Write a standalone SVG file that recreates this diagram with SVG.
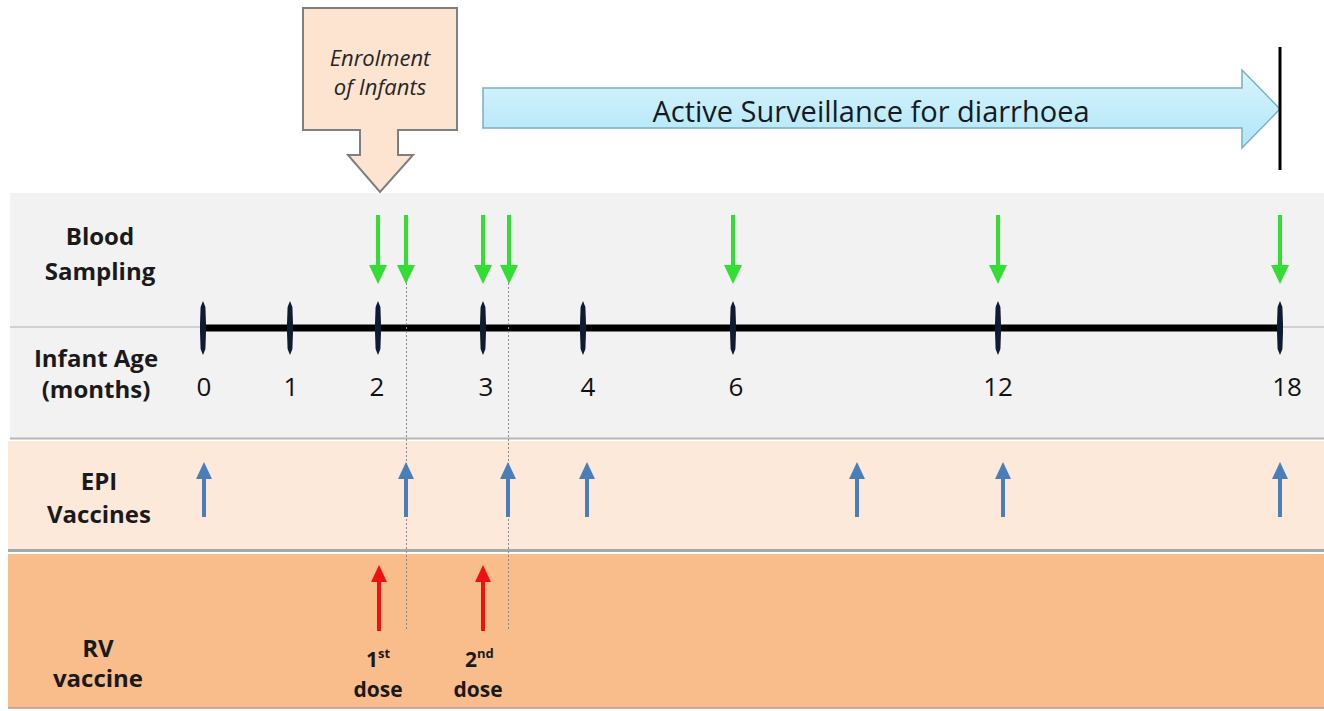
<svg xmlns="http://www.w3.org/2000/svg" width="1324" height="711" viewBox="0 0 1324 711">
<style>
.lbl{font-family:"Open Sans","Liberation Sans",sans-serif;font-weight:bold;font-size:24px;fill:#1a1a1a;text-anchor:middle}
.num{font-family:"Open Sans","Liberation Sans",sans-serif;font-size:26px;fill:#111;text-anchor:middle}
.dose{font-family:"Open Sans","Liberation Sans",sans-serif;font-weight:bold;font-size:21px;fill:#1a1a1a}
.tick{fill:#0f1a33}
.green{stroke:#33dd33;stroke-width:4;fill:none}
.greenh{fill:#33dd33}
.blue{stroke:#4a7ebb;stroke-width:4;fill:none}
.blueh{fill:#4a7ebb}
.red{stroke:#ee1111;stroke-width:4;fill:none}
.redh{fill:#ee1111}
.dash{stroke:#8a8a8a;stroke-width:1;stroke-dasharray:2,2;fill:none}
.enr{font-family:"Open Sans","Liberation Sans",sans-serif;font-style:italic;font-size:22px;fill:#262626;text-anchor:middle}
</style>
<defs>
<linearGradient id="sky" x1="0" y1="0" x2="0" y2="1">
<stop offset="0" stop-color="#d8f4fd"/>
<stop offset="1" stop-color="#b0e6f8"/>
</linearGradient>
<path id="tk" d="M0,-27 L2.4,-21 L3,-4 L3,4 L2.4,21 L0,27 L-2.4,21 L-3,4 L-3,-4 L-2.4,-21 Z"/>
</defs>
<rect x="0" y="0" width="1324" height="711" fill="#ffffff"/>

<g id="band-blood-age">
<rect x="10" y="193" width="1314" height="245" fill="#f2f2f2"/>
<line x1="10" y1="327" x2="1324" y2="327" stroke="#c4c4c4" stroke-width="1.5"/>
<line x1="10" y1="438.5" x2="1324" y2="438.5" stroke="#b5b5b5" stroke-width="2"/>
</g>
<g id="band-epi">
<rect x="8" y="441" width="1316" height="109" fill="#fde9da"/>
<line x1="8" y1="550.5" x2="1324" y2="550.5" stroke="#a8a8a8" stroke-width="3"/>
</g>
<g id="band-rv">
<rect x="8" y="554" width="1316" height="154" fill="#f9bd8c"/>
<line x1="8" y1="708" x2="1324" y2="708" stroke="#b0a090" stroke-width="1.5"/>
</g>

<g id="enrolment">
<polygon points="303,8 457,8 457,130 398,130 398,155 413,155 380,192 348,155 360,155 360,130 303,130" fill="#fde4d0" stroke="#7f7f7f" stroke-width="2"/>
<text class="enr" x="380" y="66">Enrolment</text>
<text class="enr" x="380" y="95">of Infants</text>
</g>

<g id="surveillance">
<polygon points="483,88 1242,88 1242,70 1280,109 1242,148 1242,128 483,128" fill="url(#sky)" stroke="#7aaec6" stroke-width="1.5"/>
<text x="871" y="122" font-family="Open Sans, Liberation Sans, sans-serif" font-size="29" fill="#141a24" text-anchor="middle">Active Surveillance for diarrhoea</text>
<line x1="1280" y1="47" x2="1280" y2="170" stroke="#000" stroke-width="3"/>
</g>

<g id="row-labels">
<text class="lbl" x="100" y="245">Blood</text>
<text class="lbl" x="100" y="280">Sampling</text>
<text class="lbl" x="96" y="367">Infant Age</text>
<text class="lbl" x="96" y="398">(months)</text>
<text class="lbl" x="99" y="490">EPI</text>
<text class="lbl" x="99" y="523">Vaccines</text>
<text class="lbl" x="98" y="657">RV</text>
<text class="lbl" x="98" y="687">vaccine</text>
</g>

<g id="timeline">
<line x1="203" y1="328" x2="1280" y2="328" stroke="#000" stroke-width="7"/>
<use href="#tk" class="tick" x="203" y="328"/>
<use href="#tk" class="tick" x="290" y="328"/>
<use href="#tk" class="tick" x="378" y="328"/>
<use href="#tk" class="tick" x="483" y="328"/>
<use href="#tk" class="tick" x="583" y="328"/>
<use href="#tk" class="tick" x="733" y="328"/>
<use href="#tk" class="tick" x="998" y="328"/>
<use href="#tk" class="tick" x="1280" y="328"/>
<text class="num" x="204" y="396">0</text>
<text class="num" x="291" y="396">1</text>
<text class="num" x="377" y="396">2</text>
<text class="num" x="486" y="396">3</text>
<text class="num" x="588" y="396">4</text>
<text class="num" x="736" y="396">6</text>
<text class="num" x="998" y="396">12</text>
<text class="num" x="1287" y="396">18</text>
</g>

<g id="connectors">
<line class="dash" x1="406.5" y1="283" x2="406.5" y2="631"/>
<line class="dash" x1="508.5" y1="283" x2="508.5" y2="631"/>
</g>

<g id="blood-sampling-arrows">
<line class="green" x1="378" y1="215" x2="378" y2="270"/><polygon class="greenh" points="369,265 387,265 378,284"/>
<line class="green" x1="406" y1="215" x2="406" y2="270"/><polygon class="greenh" points="397,265 415,265 406,284"/>
<line class="green" x1="483" y1="215" x2="483" y2="270"/><polygon class="greenh" points="474,265 492,265 483,284"/>
<line class="green" x1="509" y1="215" x2="509" y2="270"/><polygon class="greenh" points="500,265 518,265 509,284"/>
<line class="green" x1="733" y1="215" x2="733" y2="270"/><polygon class="greenh" points="724,265 742,265 733,284"/>
<line class="green" x1="998" y1="215" x2="998" y2="270"/><polygon class="greenh" points="989,265 1007,265 998,284"/>
<line class="green" x1="1280" y1="215" x2="1280" y2="270"/><polygon class="greenh" points="1271,265 1289,265 1280,284"/>
</g>

<g id="epi-arrows">
<line class="blue" x1="204" y1="517" x2="204" y2="474"/><polygon class="blueh" points="196,479 212,479 204,462"/>
<line class="blue" x1="406" y1="517" x2="406" y2="474"/><polygon class="blueh" points="398,479 414,479 406,462"/>
<line class="blue" x1="508" y1="517" x2="508" y2="474"/><polygon class="blueh" points="500,479 516,479 508,462"/>
<line class="blue" x1="587" y1="517" x2="587" y2="474"/><polygon class="blueh" points="579,479 595,479 587,462"/>
<line class="blue" x1="857" y1="517" x2="857" y2="474"/><polygon class="blueh" points="849,479 865,479 857,462"/>
<line class="blue" x1="1003" y1="517" x2="1003" y2="474"/><polygon class="blueh" points="995,479 1011,479 1003,462"/>
<line class="blue" x1="1280" y1="517" x2="1280" y2="474"/><polygon class="blueh" points="1272,479 1288,479 1280,462"/>
</g>

<g id="rv-doses">
<line class="red" x1="379" y1="631" x2="379" y2="578"/><polygon class="redh" points="371,582 387,582 379,565"/>
<line class="red" x1="483" y1="631" x2="483" y2="578"/><polygon class="redh" points="475,582 491,582 483,565"/>
<text class="dose" x="366" y="667">1<tspan font-size="13" dy="-9">st</tspan></text>
<text class="dose" x="378" y="697" text-anchor="middle">dose</text>
<text class="dose" x="465" y="667">2<tspan font-size="13" dy="-9">nd</tspan></text>
<text class="dose" x="478" y="697" text-anchor="middle">dose</text>
</g>
</svg>
